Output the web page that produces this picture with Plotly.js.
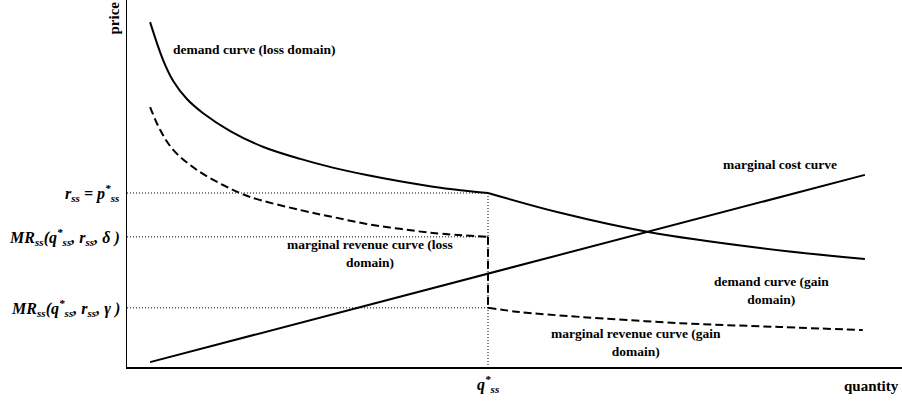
<!DOCTYPE html>
<html><head><meta charset="utf-8">
<script src="https://cdn.plot.ly/plotly-3.0.1.min.js"></script>
<style>html,body{margin:0;padding:0;background:#fff}</style>
</head><body><div id="chart" style="width:902px;height:404px"></div>
<script>
// Key equilibrium values
const qStar = 5.00;
const pStar = 5.00;
const mrDelta = 3.74;
const mrGamma = 1.70;

// Demand curve, loss domain
const demandLossQ = [0.32, 0.50, 0.64, 0.83, 1.05, 1.43, 1.88, 2.40, 2.85, 3.32, 3.78, 4.24, 4.62, 5.00];
const demandLossP = [9.91, 8.82, 8.22, 7.70, 7.30, 6.78, 6.33, 5.98, 5.73, 5.52, 5.34, 5.18, 5.08, 5.00];
// Demand curve, gain domain
const demandGainQ = [5.00, 6.00, 7.22, 8.77, 10.22];
const demandGainP = [5.00, 4.43, 3.88, 3.42, 3.10];
// Marginal revenue, loss domain
const mrLossQ = [0.32, 0.46, 0.64, 0.97, 1.33, 1.70, 2.40, 2.85, 3.32, 3.78, 4.24, 5.00];
const mrLossP = [7.47, 6.81, 6.24, 5.66, 5.23, 4.89, 4.51, 4.31, 4.11, 3.97, 3.85, 3.74];
// Marginal revenue, gain domain
const mrGainQ = [5.00, 5.44, 6.27, 7.66, 9.04, 10.19];
const mrGainP = [1.70, 1.58, 1.44, 1.26, 1.15, 1.06];
// Marginal cost
const mcQ = [0.32, 10.22];
const mcP = [0.14, 5.52];

// Axis-side labels
const yLabels = [
  'r<sub>ss</sub> = p<sup>*</sup><sub>ss</sub>',
  'MR<sub>ss</sub>(q<sup>*</sup><sub>ss</sub>, r<sub>ss</sub>, δ )',
  'MR<sub>ss</sub>(q<sup>*</sup><sub>ss</sub>, r<sub>ss</sub>, γ )'
];
const yLabelVals = [pStar, mrDelta, mrGamma];
const xLabel = 'q<sup>*</sup><sub>ss</sub>';

const K = '#000';
const solid = {color: K, width: 2};
const dashed = {color: K, width: 2, dash: '8px,4px'};
const dotted = {color: K, width: 1, dash: '1px,2px'};
const smooth = {shape: 'spline', smoothing: 1};

const traces = [
  {x: demandLossQ, y: demandLossP, line: Object.assign({}, smooth, solid)},
  {x: demandGainQ, y: demandGainP, line: Object.assign({}, smooth, solid)},
  {x: mrLossQ, y: mrLossP, line: Object.assign({}, smooth, dashed)},
  {x: [qStar, qStar], y: [mrDelta, mrGamma], line: dashed},
  {x: mrGainQ, y: mrGainP, line: Object.assign({}, smooth, dashed)},
  {x: mcQ, y: mcP, line: solid},
  {x: [0, qStar], y: [pStar, pStar], line: dotted},
  {x: [0, qStar], y: [mrDelta, mrDelta], line: dotted},
  {x: [0, qStar], y: [mrGamma, mrGamma], line: dotted},
  {x: [qStar, qStar], y: [pStar, 0], line: dotted}
].map(t => Object.assign({type: 'scatter', mode: 'lines', hoverinfo: 'skip', showlegend: false}, t));

const serif = 'Liberation Serif, Times New Roman, serif';
const lblFont = {family: serif, size: 13.5, color: K, weight: 'bold'};
const axFont = {family: serif, size: 15, color: K, weight: 'bold'};
const mathFont = {family: serif, size: 16, color: K, weight: 'bold', style: 'italic'};

const annotations = [
  {text: 'demand curve (loss domain)', x: 1.76, y: 9.11},
  {text: 'marginal revenue curve (loss<br>domain)', x: 3.37, y: 3.26},
  {text: 'marginal cost curve', x: 9.04, y: 5.83},
  {text: 'demand curve (gain<br>domain)', x: 8.92, y: 2.20},
  {text: 'marginal revenue curve (gain<br>domain)', x: 7.05, y: 0.69}
].map(a => Object.assign({xref: 'x', yref: 'y', showarrow: false, xanchor: 'center', yanchor: 'middle', align: 'center', font: lblFont}, a));

yLabels.forEach((t, i) => annotations.push({
  text: t, xref: 'paper', x: 0, xanchor: 'right', xshift: -5,
  yref: 'y', y: yLabelVals[i], yanchor: 'middle', showarrow: false, font: mathFont
}));
annotations.push({text: xLabel, xref: 'x', x: qStar, yref: 'paper', y: 0, yanchor: 'top', yshift: -4,
  showarrow: false, font: mathFont});
annotations.push({text: 'quantity', xref: 'paper', x: 1, xanchor: 'right', xshift: -1, yref: 'paper', y: 0,
  yanchor: 'top', yshift: -9, showarrow: false, font: axFont});
annotations.push({text: 'price', xref: 'paper', x: 0, xanchor: 'right', xshift: -4, yref: 'paper', y: 1,
  yanchor: 'top', yshift: 0, textangle: -90, showarrow: false, font: axFont});

const axisCommon = {showgrid: false, zeroline: false, showticklabels: false, ticks: '',
  showline: true, linecolor: K, linewidth: 1.5, fixedrange: true};

const layout = {
  width: 902, height: 404,
  margin: {l: 127, r: 0, t: 0, b: 37},
  paper_bgcolor: '#fff', plot_bgcolor: '#fff',
  xaxis: Object.assign({range: [0, 10.734]}, axisCommon),
  yaxis: Object.assign({range: [0, 10.546]}, axisCommon),
  annotations: annotations
};

Plotly.newPlot('chart', traces, layout, {displayModeBar: false, staticPlot: true});
</script>
</body></html>
